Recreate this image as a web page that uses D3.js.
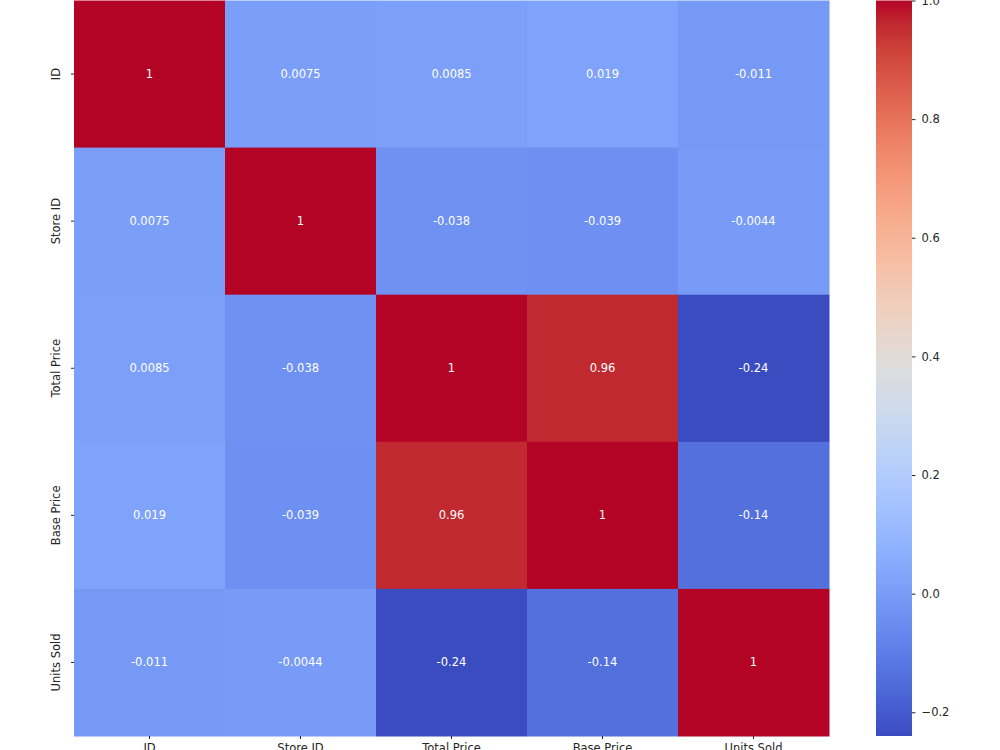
<!DOCTYPE html>
<html>
<head>
<meta charset="utf-8">
<script src="https://cdn.jsdelivr.net/npm/d3@7"></script>
<style>
  body { margin: 0; background: #fff; }
  text { font-family: "DejaVu Sans", sans-serif; }
</style>
</head>
<body>
<svg id="chart" width="1000" height="750"></svg>
<script>
// correlation matrix values
const labels = ['ID', 'Store ID', 'Total Price', 'Base Price', 'Units Sold'];
const rowID        = [1, 0.0075, 0.0085, 0.019, -0.011];
const rowStoreID   = [0.0075, 1, -0.038, -0.039, -0.0044];
const rowTotal     = [0.0085, -0.038, 1, 0.96, -0.24];
const rowBase      = [0.019, -0.039, 0.96, 1, -0.14];
const rowUnits     = [-0.011, -0.0044, -0.24, -0.14, 1];
const matrix = [rowID, rowStoreID, rowTotal, rowBase, rowUnits];
const cbarTicks = [-0.2, 0, 0.2, 0.4, 0.6, 0.8, 1.0];

// coolwarm colormap (Moreland table)
const coolwarm = [
  [59,76,192],[68,90,204],[77,104,215],[87,117,225],[98,130,234],[108,142,241],
  [119,154,247],[130,165,251],[141,176,254],[152,185,255],[163,194,255],[174,201,253],
  [184,208,249],[194,213,244],[204,217,238],[213,219,230],[221,221,221],[229,216,209],
  [236,211,197],[241,204,185],[245,196,173],[247,187,160],[247,177,148],[247,166,135],
  [244,154,123],[241,141,111],[236,127,99],[229,112,88],[222,96,77],[213,80,66],
  [203,62,56],[192,40,47],[180,4,38]
].map(c => `rgb(${c[0]},${c[1]},${c[2]})`);

const vmin = d3.min(matrix.flat());
const vmax = d3.max(matrix.flat());
const cmapT = d3.scaleLinear()
  .domain(d3.range(coolwarm.length).map(i => i / (coolwarm.length - 1)))
  .range(coolwarm)
  .interpolate(d3.interpolateRgb)
  .clamp(true);
const colorOf = v => cmapT((v - vmin) / (vmax - vmin));

const svg = d3.select('#chart');
const margin = {left: 74, top: 0.5, right: 171, bottom: 14};
const width = 829 - margin.left;
const height = 736 - margin.top;

const g = svg.append('g').attr('transform', `translate(${margin.left},${margin.top})`);

const x = d3.scaleBand().domain(labels).range([0, width]);
const y = d3.scaleBand().domain(labels).range([0, height]);

const cells = [];
matrix.forEach((row, i) => row.forEach((v, j) => cells.push({r: labels[i], c: labels[j], v})));

g.selectAll('rect.cell')
  .data(cells)
  .enter().append('rect')
  .attr('class', 'cell')
  .attr('x', d => x(d.c))
  .attr('y', d => y(d.r))
  .attr('width', x.bandwidth() + 0.5)
  .attr('height', y.bandwidth() + 0.5)
  .attr('fill', d => colorOf(d.v));

g.selectAll('text.annot')
  .data(cells)
  .enter().append('text')
  .attr('class', 'annot')
  .attr('x', d => x(d.c) + x.bandwidth() / 2)
  .attr('y', d => y(d.r) + y.bandwidth() / 2)
  .attr('text-anchor', 'middle')
  .attr('dominant-baseline', 'central')
  .attr('font-size', '11.5px')
  .attr('fill', '#fff')
  .text(d => String(d.v));

// axes
const xAxis = g.append('g')
  .attr('transform', `translate(0,${height})`)
  .call(d3.axisBottom(x).tickSize(3).tickPadding(5));
const yAxis = g.append('g')
  .call(d3.axisLeft(y).tickSize(3).tickPadding(5));

[xAxis, yAxis].forEach(a => {
  a.select('.domain').remove();
  a.selectAll('line').attr('stroke', '#262626');
  a.selectAll('text').attr('font-size', '11.5px').attr('fill', '#262626')
    .style('font-family', '"DejaVu Sans", sans-serif');
});

yAxis.selectAll('text')
  .attr('transform', 'rotate(-90)')
  .attr('x', 0)
  .attr('y', -14)
  .attr('dy', 0)
  .attr('text-anchor', 'middle');

// colorbar
const cbX = 876, cbW = 36;
const cbScale = d3.scaleLinear().domain([vmin, vmax]).range([margin.top + height, margin.top]);

const defs = svg.append('defs');
const grad = defs.append('linearGradient')
  .attr('id', 'cbgrad')
  .attr('x1', 0).attr('y1', 1).attr('x2', 0).attr('y2', 0);
grad.selectAll('stop')
  .data(coolwarm)
  .enter().append('stop')
  .attr('offset', (d, i) => i / (coolwarm.length - 1))
  .attr('stop-color', d => d);

svg.append('rect')
  .attr('x', cbX)
  .attr('y', margin.top)
  .attr('width', cbW)
  .attr('height', height)
  .attr('fill', 'url(#cbgrad)');

const cbAxis = svg.append('g')
  .attr('transform', `translate(${cbX + cbW},0)`)
  .call(d3.axisRight(cbScale).tickValues(cbarTicks).tickFormat(d3.format('.1f')).tickSize(3.5).tickPadding(6));
cbAxis.select('.domain').remove();
cbAxis.selectAll('line').attr('stroke', '#262626');
cbAxis.selectAll('text').attr('font-size', '11.5px').attr('fill', '#262626')
  .style('font-family', '"DejaVu Sans", sans-serif');
</script>
</body>
</html>
